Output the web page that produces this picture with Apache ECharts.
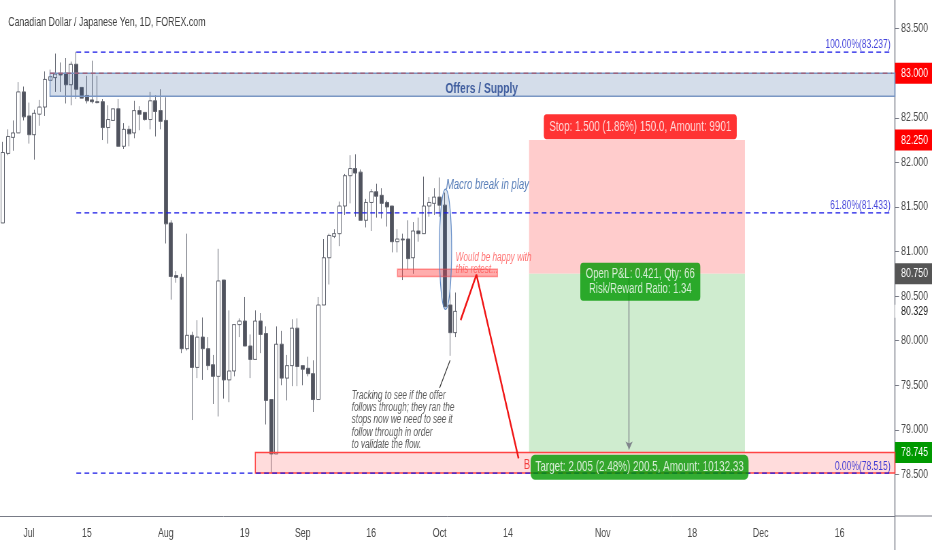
<!DOCTYPE html>
<html>
<head>
<meta charset="utf-8">
<title>CADJPY</title>
<script src="https://cdn.jsdelivr.net/npm/echarts@6/dist/echarts.min.js"></script>
<style>
html, body { margin: 0; padding: 0; background: #fff; overflow: hidden; width: 932px; height: 550px; }
/* the source screenshot is squeezed sideways, so draw wide and squeeze the same way */
#chart { width: 1370px; height: 550px; transform: scaleX(0.68029); transform-origin: 0 0; }
</style>
</head>
<body>
<div id="chart"></div>
<script>
// daily candles
var opens = [81.32,82.10,82.28,82.33,82.79,82.52,82.31,82.54,82.62,82.92,82.95,82.99,83.00,82.87,83.10,82.84,82.75,82.70,82.68,82.68,82.39,82.47,82.60,82.18,82.37,82.33,82.58,82.56,82.48,82.69,82.58,82.47,81.32,80.73,80.71,79.91,80.06,79.70,80.04,79.91,79.73,79.60,80.68,79.56,79.66,80.18,80.22,79.94,79.79,80.22,80.08,79.34,78.73,79.96,79.58,79.72,80.14,79.72,79.69,79.63,79.34,80.40,80.93,81.17,81.20,81.51,81.85,81.93,81.89,81.35,81.55,81.67,81.63,81.55,81.51,81.11,81.14,81.14,80.93,81.23,81.20,81.51,81.54,81.61,81.52,80.40,80.09];
var closes = [82.11,82.29,82.33,82.79,82.51,82.31,82.55,82.62,82.93,82.96,82.99,82.98,82.87,83.10,82.82,82.72,82.69,82.68,82.67,82.39,82.48,82.60,82.18,82.37,82.32,82.58,82.54,82.48,82.69,82.57,82.46,81.31,80.72,80.71,79.91,80.06,79.70,80.04,79.91,79.72,79.60,80.67,79.56,79.66,80.18,80.22,79.94,79.79,80.22,80.07,79.33,78.73,79.96,79.58,79.72,80.14,79.71,79.68,79.63,79.34,80.40,80.93,81.18,81.20,81.51,81.85,81.93,81.88,81.35,81.55,81.67,81.62,81.54,81.50,81.11,81.14,81.13,80.92,81.23,81.20,81.51,81.55,81.61,81.52,80.38,80.09,80.329];
var lows = [81.32,82.08,82.13,82.33,82.47,82.21,82.03,82.41,82.52,82.87,82.79,82.79,82.66,82.64,82.71,82.72,82.66,82.66,82.66,82.25,82.21,82.47,82.18,82.15,82.18,82.27,82.36,82.47,82.37,82.29,82.37,81.09,80.46,80.65,79.86,79.89,79.11,79.58,79.56,79.67,79.29,79.15,79.35,79.31,79.60,80.04,79.94,79.58,79.79,79.86,79.06,78.51,78.73,79.50,79.33,79.49,79.49,79.50,79.60,79.20,79.34,80.40,80.63,81.15,81.06,81.41,81.54,81.39,81.35,81.27,81.23,81.38,81.37,81.28,80.99,80.99,80.68,80.80,80.75,81.11,81.20,81.39,81.41,81.39,80.38,79.83,80.04];
var highs = [82.23,82.37,82.47,82.90,82.85,82.67,82.59,82.70,83.02,83.04,83.22,83.12,83.17,83.13,83.24,82.84,82.97,83.14,82.97,82.71,82.64,82.60,82.71,82.44,82.41,82.69,82.63,82.56,82.79,82.75,82.82,82.73,81.35,80.78,80.75,81.20,80.10,80.23,80.26,80.04,79.84,81.03,80.68,80.34,80.18,80.25,80.49,80.07,80.34,80.31,80.16,79.34,80.16,80.11,79.84,80.24,80.25,79.72,79.82,79.78,80.49,81.14,81.20,81.25,81.56,81.87,82.08,82.09,81.92,81.59,81.70,81.76,81.71,81.57,81.51,81.25,81.20,81.35,81.33,81.38,81.84,81.61,81.71,81.83,81.66,80.55,80.54];

var barCount = 170;
var xTickIndex = [5, 16, 31, 46, 57, 70, 83, 96, 114, 131, 144, 159];
var xTickLabels = ['Jul', '15', 'Aug', '19', 'Sep', '16', 'Oct', '14', 'Nov', '18', 'Dec', '16'];
var yTicks = [83.5, 83, 82.5, 82.25, 82, 81.5, 81, 80.75, 80.5, 80.329, 80, 79.5, 79, 78.745, 78.5];

var fibPrices = [83.237, 81.433, 78.515];
var fibTexts = ['100.00%(83.237)', '61.80%(81.433)', '0.00%(78.515)'];
var fibStart = 14;

// [startIndex, endIndex, topPrice, bottomPrice, fill, border]
var zones = [
    [100, 141, 82.25, 80.75, '#ffcccc', 'transparent'],
    [100, 141, 80.75, 78.745, '#cfeccf', 'transparent'],
    [9, 169, 83.0, 82.74, 'rgba(42,84,150,0.2)', '#7a97c4'],
    [48, 169, 78.745, 78.515, 'rgba(255,82,82,0.2)', '#f44'],
    [75, 94, 80.80, 80.72, 'rgba(255,60,60,0.42)', 'rgba(255,82,82,0.6)']
];
var retestPath = [[87, 80.23], [90, 80.74], [98, 78.68]];
var notePath = [[85, 79.78], [83, 79.47]];
var macroEllipse = [84, 81.70, 80.35];

var FONT = '"Liberation Sans",sans-serif';

var labels = [];
var tickMap = {};
for (var i = 0; i < barCount; i++) labels.push('');
for (var i = 0; i < xTickIndex.length; i++) {
    labels[xTickIndex[i]] = xTickLabels[i];
    tickMap[xTickIndex[i]] = true;
}
function isTick(idx) {
    return tickMap[idx] === true;
}

var candleData = [];
for (var i = 0; i < opens.length; i++) {
    candleData.push([opens[i], closes[i], lows[i], highs[i]]);
}

function renderZone(params, api) {
    var half = api.size([1, 0])[0] / 2;
    var a = api.coord([api.value(0), api.value(2)]);
    var b = api.coord([api.value(1), api.value(3)]);
    var row = zones[params.dataIndex];
    // zones that run to the last bar go on to the price axis
    var right = api.value(1) === barCount - 1 ? b[0] + half : b[0];
    return {
        type: 'rect',
        shape: { x: a[0], y: a[1], width: right - a[0], height: b[1] - a[1] },
        style: { fill: row[4], stroke: row[5], lineWidth: 1.5 }
    };
}

function renderEllipse(params, api) {
    var top = api.coord([api.value(0), api.value(1)]);
    var bottom = api.coord([api.value(0), api.value(2)]);
    return {
        type: 'ellipse',
        shape: { cx: top[0] + 1, cy: (top[1] + bottom[1]) / 2, rx: 9, ry: (bottom[1] - top[1]) / 2 },
        style: { fill: 'rgba(42,84,150,0.15)', stroke: '#5b86c4', lineWidth: 1.2 }
    };
}

function lineSeries(points, color, width, dash) {
    return {
        type: 'line',
        data: points,
        symbol: 'none',
        silent: true,
        z: 6,
        animation: false,
        lineStyle: { color: color, width: width, type: dash || 'solid' }
    };
}

function noteSeries(text, idx, price, label) {
    var opt = {
        show: true,
        formatter: text,
        fontFamily: FONT,
        position: 'inside',
        fontSize: 13
    };
    for (var k in label) opt[k] = label[k];
    return {
        type: 'scatter',
        data: [[idx, price]],
        symbolSize: 1,
        itemStyle: { color: 'transparent' },
        silent: true,
        z: 8,
        animation: false,
        label: opt
    };
}

var series = [
    {
        type: 'custom',
        data: zones.map(function(z) { return [z[0], z[1], z[2], z[3]]; }),
        renderItem: renderZone,
        encode: { x: [0, 1], y: [2, 3] },
        silent: true,
        z: 3,
        animation: false
    },
    {
        type: 'candlestick',
        data: candleData,
        barWidth: 5.5,
        z: 2,
        silent: true,
        animation: false,
        itemStyle: {
            color: '#fff',
            color0: '#50535e',
            borderColor: '#62656f',
            borderColor0: '#62656f',
            borderWidth: 1
        }
    },
    {
        type: 'custom',
        data: [macroEllipse],
        renderItem: renderEllipse,
        encode: { x: 0, y: [1, 2] },
        silent: true,
        z: 4,
        animation: false
    }
];

for (var i = 0; i < fibPrices.length; i++) {
    series.push(lineSeries([[fibStart, fibPrices[i]], [barCount - 1, fibPrices[i]]], '#1a1ae6', 1.2, [7, 5]));
    series.push(noteSeries(fibTexts[i], barCount - 1, fibPrices[i], {
        position: 'left', distance: 2, offset: [0, -7], color: '#1414d2', fontSize: 12.5
    }));
}
series.push(lineSeries([[9, 83], [barCount - 1, 83]], '#b04a5a', 1, [7, 5]));
series.push(lineSeries(retestPath, '#f01414', 2.4));
series.push(lineSeries(notePath, '#333', 1.2));

// arrow from entry down to the target
series.push({
    type: 'line',
    data: [],
    silent: true,
    animation: false,
    z: 5,
    markLine: {
        silent: true,
        animation: false,
        symbol: ['none', 'arrow'],
        symbolSize: 8,
        label: { show: false },
        lineStyle: { color: '#80858c', width: 1.4, type: 'solid' },
        data: [[{ coord: [119, 80.75] }, { coord: [119, 78.78] }]]
    }
});

series.push(noteSeries('Offers / Supply', 91, 82.82, { color: '#1c3f8c', fontSize: 15, fontWeight: 'bold' }));
series.push(noteSeries('Macro break in play', 84, 81.745, {
    position: 'right', distance: 1, color: '#2f5fa8', fontStyle: 'italic', fontSize: 14
}));
series.push(noteSeries('Would be happy with\nthis retest...', 86, 80.86, {
    position: 'right', distance: 0, color: '#ff5252', fontStyle: 'italic', fontSize: 12, lineHeight: 12
}));
series.push(noteSeries('Tracking to see if the offer\nfollows through; they ran the\nstops now we need to see it\nfollow through in order\nto validate the flow.', 66, 79.11, {
    position: 'right', distance: 2, color: '#333', fontStyle: 'italic', fontSize: 12, lineHeight: 12.3
}));
series.push(noteSeries('B', 100, 78.60, { color: '#f01414', fontSize: 14, offset: [-3, 0] }));
series.push(noteSeries('Stop: 1.500 (1.86%) 150.0, Amount: 9901', 121, 82.40, {
    color: '#fff', backgroundColor: '#ff0000', borderRadius: 4, padding: [5, 8], fontSize: 14.5, offset: [1, 0]
}));
series.push(noteSeries('Open P&L: 0.421, Qty: 66\nRisk/Reward Ratio: 1.34', 121, 80.66, {
    color: '#fff', backgroundColor: '#009900', borderRadius: 4, padding: [4, 8], fontSize: 14, lineHeight: 15, offset: [1, 0]
}));
series.push(noteSeries('Target: 2.005 (2.48%) 200.5, Amount: 10132.33', 121, 78.58, {
    color: '#fff', backgroundColor: '#009900', borderRadius: 6, padding: [5, 7], fontSize: 14.5
}));

var myChart = echarts.init(document.getElementById('chart'));
var option = {
    backgroundColor: '#fff',
    animation: false,
    title: {
        text: 'Canadian Dollar / Japanese Yen, 1D, FOREX.com',
        left: 7,
        top: 11,
        textStyle: { fontFamily: FONT, fontSize: 13, fontWeight: 'normal', color: '#404040' }
    },
    grid: { left: 0, right: 54.5, top: -16, bottom: 31, outerBoundsMode: 'none' },
    xAxis: {
        type: 'category',
        data: labels,
        offset: -3,
        boundaryGap: true,
        axisLine: { lineStyle: { color: '#787b86' } },
        axisTick: { alignWithLabel: true, length: 4, interval: function(idx) { return isTick(idx); }, lineStyle: { color: '#787b86' } },
        axisLabel: {
            interval: function(idx) { return isTick(idx); },
            fontFamily: FONT, fontSize: 13, color: '#4a4a4a', margin: 11
        },
        splitLine: { show: false }
    },
    yAxis: {
        type: 'value',
        position: 'right',
        min: 78,
        max: 84,
        interval: 0.5,
        splitLine: { show: false },
        axisLine: { show: true, lineStyle: { color: '#787b86' } },
        axisTick: { show: true, length: 6, customValues: yTicks, lineStyle: { color: '#787b86' } },
        axisLabel: {
            customValues: yTicks,
            margin: 0,
            align: 'left',
            fontFamily: FONT,
            fontSize: 13,
            formatter: function(v) {
                var s = v.toFixed(3);
                if (s === '83.000' || s === '82.250') return '{red|' + s + '}';
                if (s === '80.750') return '{gray|' + s + '}';
                if (s === '78.745') return '{green|' + s + '}';
                if (s === '80.329') return '{last|' + s + '}';
                return '{plain|' + s + '}';
            },
            rich: {
                plain: { color: '#4a4a4a', fontFamily: FONT, fontSize: 13, padding: [0, 0, 0, 9] },
                last: { color: '#222', fontFamily: FONT, fontSize: 13, padding: [0, 0, 0, 9], backgroundColor: '#fff', height: 13, width: 45 },
                red: { color: '#fff', fontFamily: FONT, fontSize: 13, backgroundColor: '#ff0000', padding: [0, 0, 0, 9], width: 45.5, height: 21 },
                gray: { color: '#fff', fontFamily: FONT, fontSize: 13, backgroundColor: '#555', padding: [0, 0, 0, 9], width: 45.5, height: 21 },
                green: { color: '#fff', fontFamily: FONT, fontSize: 13, backgroundColor: '#009900', padding: [0, 0, 0, 9], width: 45.5, height: 21 }
            }
        }
    },
    graphic: [
        { type: 'line', silent: true, shape: { x1: 1315.5, y1: 0, x2: 1315.5, y2: 550 }, style: { stroke: '#787b86', lineWidth: 1.4 } },
        { type: 'line', silent: true, shape: { x1: 1315, y1: 516, x2: 1370, y2: 516 }, style: { stroke: '#787b86', lineWidth: 1 } }
    ],
    series: series
};
myChart.setOption(option);
</script>
</body>
</html>
